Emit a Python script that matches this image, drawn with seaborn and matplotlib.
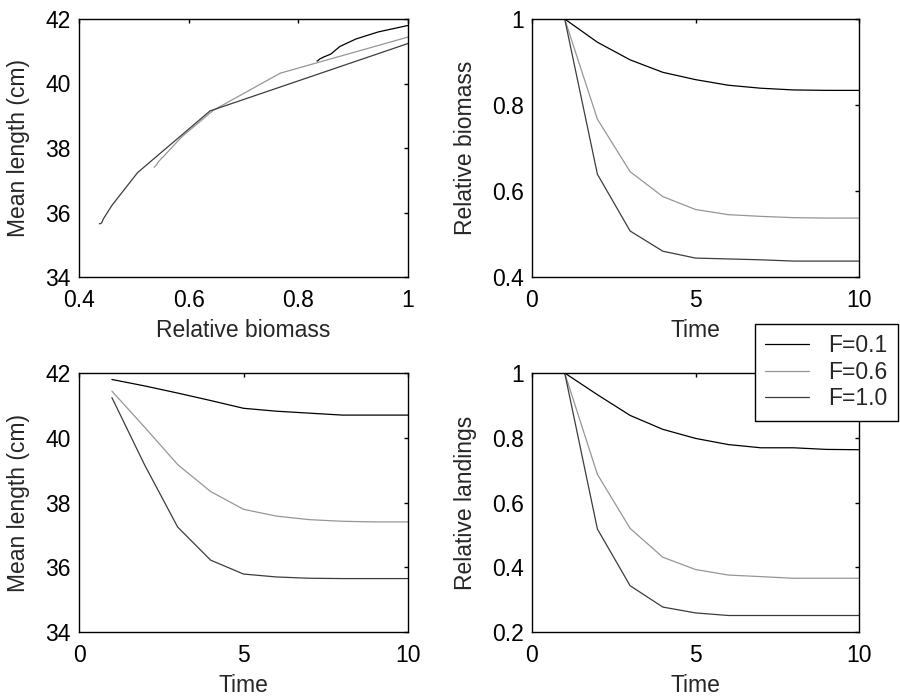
import numpy as np
import pandas as pd
import matplotlib
matplotlib.use("Agg")
import matplotlib.pyplot as plt
from matplotlib.ticker import FuncFormatter
import seaborn as sns

# ---- data ----
time = [1, 2, 3, 4, 5, 6, 7, 8, 9, 10]
f_labels = ["F=0.1", "F=0.6", "F=1.0"]

biomass_f01 = [1.0, 0.946, 0.905, 0.876, 0.859, 0.846, 0.839, 0.835, 0.834, 0.834]
biomass_f06 = [1.0, 0.767, 0.645, 0.587, 0.557, 0.545, 0.541, 0.538, 0.537, 0.537]
biomass_f10 = [1.0, 0.639, 0.507, 0.460, 0.444, 0.442, 0.440, 0.437, 0.437, 0.437]

length_f01 = [41.80, 41.60, 41.38, 41.15, 40.91, 40.82, 40.76, 40.70, 40.70, 40.70]
length_f06 = [41.44, 40.32, 39.17, 38.34, 37.79, 37.58, 37.47, 37.42, 37.40, 37.40]
length_f10 = [41.24, 39.15, 37.24, 36.22, 35.79, 35.70, 35.66, 35.65, 35.65, 35.65]

landings_f01 = [1.0, 0.933, 0.869, 0.826, 0.798, 0.779, 0.769, 0.769, 0.764, 0.763]
landings_f06 = [1.0, 0.687, 0.520, 0.431, 0.393, 0.376, 0.371, 0.366, 0.366, 0.366]
landings_f10 = [1.0, 0.518, 0.343, 0.277, 0.259, 0.251, 0.251, 0.251, 0.251, 0.251]

rows = []
for lab, b, l, d in zip(f_labels,
                        [biomass_f01, biomass_f06, biomass_f10],
                        [length_f01, length_f06, length_f10],
                        [landings_f01, landings_f06, landings_f10]):
    for t, bb, ll, dd in zip(time, b, l, d):
        rows.append({"F": lab, "Time": t, "biomass": bb, "length": ll, "landings": dd})
df = pd.DataFrame(rows)

sns.set_style("white")
plt.rcParams["font.family"] = ["Liberation Sans", "DejaVu Sans"]
FS = 16.5
plt.rcParams["font.size"] = FS

palette = {"F=0.1": "#000000", "F=0.6": "#969696", "F=1.0": "#3c3c3c"}

fig = plt.figure(figsize=(9.0, 6.99), dpi=100)
L1, R1 = 79 / 900, 408 / 900
L2, R2 = 532 / 900, 859 / 900
T1, B1 = 1 - 19 / 699, 1 - 277 / 699
T2, B2 = 1 - 373 / 699, 1 - 632 / 699

ax_tl = fig.add_axes([L1, B1, R1 - L1, T1 - B1])
ax_tr = fig.add_axes([L2, B1, R2 - L2, T1 - B1])
ax_bl = fig.add_axes([L1, B2, R1 - L1, T2 - B2])
ax_br = fig.add_axes([L2, B2, R2 - L2, T2 - B2])

common = dict(hue="F", palette=palette, estimator=None, linewidth=0.9)
sns.lineplot(data=df, x="biomass", y="length", sort=False, units="F",
             ax=ax_tl, legend=False, **common)
sns.lineplot(data=df, x="Time", y="biomass", ax=ax_tr, legend=False, **common)
sns.lineplot(data=df, x="Time", y="length", ax=ax_bl, legend=False, **common)
sns.lineplot(data=df, x="Time", y="landings", ax=ax_br, legend=True, **common)

fmt = FuncFormatter(lambda v, p: f"{v:g}")

def style(ax, xlim, ylim, xticks, yticks, xlabel, ylabel):
    ax.set_xlim(*xlim)
    ax.set_ylim(*ylim)
    ax.set_xticks(xticks)
    ax.set_yticks(yticks)
    ax.xaxis.set_major_formatter(fmt)
    ax.yaxis.set_major_formatter(fmt)
    ax.set_xlabel(xlabel, fontsize=FS, labelpad=4.5)
    ax.set_ylabel(ylabel, fontsize=FS, labelpad=11)
    ax.tick_params(direction="in", top=True, right=True, length=3, width=1,
                   labelsize=FS, colors="black")
    ax.tick_params(axis="x", pad=9)
    ax.tick_params(axis="y", pad=6)
    for s in ax.spines.values():
        s.set_color("black")
        s.set_linewidth(1.0)

style(ax_tl, (0.4, 1), (34, 42), [0.4, 0.6, 0.8, 1.0], [34, 36, 38, 40, 42],
      "Relative biomass", "Mean length (cm)")
style(ax_tr, (0, 10), (0.4, 1), [0, 5, 10], [0.4, 0.6, 0.8, 1.0],
      "Time", "Relative biomass")
style(ax_bl, (0, 10), (34, 42), [0, 5, 10], [34, 36, 38, 40, 42],
      "Time", "Mean length (cm)")
style(ax_br, (0, 10), (0.2, 1), [0, 5, 10], [0.2, 0.4, 0.6, 0.8, 1.0],
      "Time", "Relative landings")

handles, labels = ax_br.get_legend_handles_labels()
ax_br.get_legend().remove()
leg = fig.legend(handles, labels, loc="upper right",
                 bbox_to_anchor=(898 / 900, 1 - 324 / 699),
                 frameon=True, fancybox=False, shadow=False, fontsize=FS,
                 borderaxespad=0, handlelength=1.9, handletextpad=0.85,
                 labelspacing=0.15, borderpad=0.45)
leg.get_frame().set_edgecolor("black")
leg.get_frame().set_linewidth(1.0)
leg.get_frame().set_alpha(1)

fig.savefig("out.png", dpi=100)
